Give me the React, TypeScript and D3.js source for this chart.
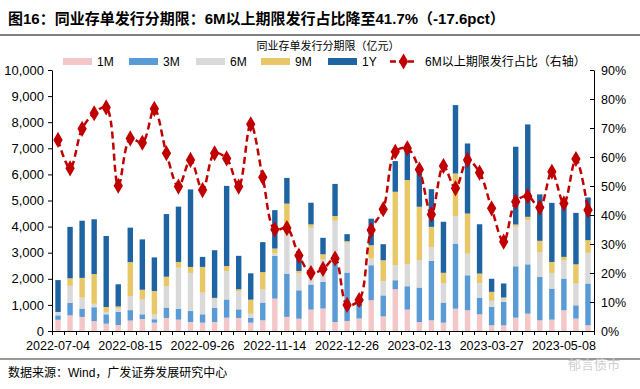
import React, { useRef, useEffect } from "react";
import * as d3 from "d3";

// weekly issuance by tenor (100m yuan)
const dates = [
  "2022-07-04", "2022-07-11", "2022-07-18", "2022-07-25", "2022-08-01", "2022-08-08",
  "2022-08-15", "2022-08-22", "2022-08-29", "2022-09-05", "2022-09-12", "2022-09-19",
  "2022-09-26", "2022-10-10", "2022-10-17", "2022-10-24", "2022-10-31", "2022-11-07",
  "2022-11-14", "2022-11-21", "2022-11-28", "2022-12-05", "2022-12-12", "2022-12-19",
  "2022-12-26", "2023-01-02", "2023-01-09", "2023-01-16", "2023-01-30", "2023-02-06",
  "2023-02-13", "2023-02-20", "2023-02-27", "2023-03-06", "2023-03-13", "2023-03-20",
  "2023-03-27", "2023-04-03", "2023-04-10", "2023-04-17", "2023-04-24", "2023-05-01",
  "2023-05-08", "2023-05-15", "2023-05-22",
];
const m1 = [430, 600, 540, 380, 280, 230, 400, 460, 320, 500, 435, 345, 320, 345, 510, 500, 320, 410,
  1240, 540, 470, 820, 860, 345, 385, 480, 1180, 560, 1600, 820, 345, 410, 320, 855, 795, 640,
  220, 220, 510, 665, 410, 435, 795, 475, 220];
const m3 = [170, 480, 320, 530, 360, 500, 400, 180, 130, 400, 420, 420, 320, 550, 700, 330, 190, 680,
  1640, 1660, 1090, 960, 1020, 2370, 1855, 450, 1340, 805, 345, 895, 1320, 2275, 770, 2495, 1340, 640,
  705, 895, 1970, 1890, 1660, 1190, 1215, 510, 1600];
const m6 = [130, 650, 420, 130, 90, 130, 530, 560, 180, 820, 1570, 1460, 830, 345, 1090, 690, 150, 500,
  90, 1690, 640, 2175, 860, 1510, 1140, 0, 255, 540, 575, 845, 1050, 535, 730, 1050, 830, 560,
  230, 130, 1510, 1690, 935, 600, 700, 830, 1175];
const m9 = [0, 290, 755, 1140, 190, 80, 1310, 380, 900, 360, 220, 230, 985, 30, 190, 80, 540, 665,
  190, 990, 100, 130, 200, 180, 60, 0, 510, 805, 2815, 3225, 2045, 770, 410, 1635, 1535, 360,
  345, 40, 90, 130, 450, 420, 130, 740, 485];
const y1 = [1220, 1970, 2190, 2100, 2720, 850, 1320, 1930, 1290, 2400, 2120, 2970, 385, 1825, 3070, 1280, 1010, 1150,
  1470, 985, 570, 830, 630, 1230, 270, 110, 1020, 615, 1175, 1255, 1405, 1445, 1955, 2620, 2685, 1890,
  500, 535, 2980, 3540, 1780, 2265, 1980, 1970, 1635];
// share of tenors above 6M (%), right axis
const ratio = [65.9, 56.1, 69.7, 75.1, 77.1, 50.1, 66.4, 64.9, 76.6, 61.3, 49.8, 59.0, 48.6, 61.3, 59.5, 49.8, 71.3, 53.0,
  35.0, 35.5, 26.0, 20.0, 21.4, 25.0, 9.0, 10.7, 34.8, 42.0, 61.8, 63.0, 55.7, 40.2, 56.9, 49.2, 59.0, 54.6,
  42.3, 30.8, 44.6, 46.5, 42.6, 54.9, 44.0, 59.3, 41.7];

const series = ["1M", "3M", "6M", "9M", "1Y"];
const colors = ["#F3C6C8", "#5B9BD5", "#D9D9D9", "#E8C766", "#1F64A2"];
const lineName = "6M以上期限发行占比（右轴）";
const leftTicks = [0, 1000, 2000, 3000, 4000, 5000, 6000, 7000, 8000, 9000, 10000];
const rightTicks = [0, 10, 20, 30, 40, 50, 60, 70, 80, 90];

const W = 640, H = 389;
const latin = "'Liberation Sans', Arial, sans-serif";
const cjk = "'Liberation Sans', 'Noto Sans CJK SC', sans-serif";

export default function App() {
  const ref = useRef<SVGSVGElement>(null);

  useEffect(() => {
    const svg = d3.select(ref.current);
    svg.selectAll("*").remove();
    svg.append("rect").attr("width", W).attr("height", H).attr("fill", "#fff");

    const left = 52, right = 594, top = 70, bottom = 331;
    const x = d3.scaleBand().domain(dates).range([left, right]).paddingInner(0.55).paddingOuter(0.275);
    const yL = d3.scaleLinear().domain([0, 10000]).range([bottom, top]);
    const yR = d3.scaleLinear().domain([0, 90]).range([bottom, top]);

    // title block
    svg.append("text").attr("x", 8).attr("y", 24)
      .attr("font-family", cjk).attr("font-size", 15).attr("font-weight", 700)
      .text("图16：同业存单发行分期限：6M以上期限发行占比降至41.7%（-17.6pct）");
    svg.append("line").attr("x1", 0).attr("x2", W).attr("y1", 35).attr("y2", 35)
      .attr("stroke", "#555").attr("stroke-width", 1.5);
    svg.append("text").attr("x", 328).attr("y", 50).attr("text-anchor", "middle")
      .attr("font-family", cjk).attr("font-size", 11).text("同业存单发行分期限（亿元）");

    // legend
    const legX = [63, 129, 196, 261, 328];
    series.forEach((s, i) => {
      svg.append("rect").attr("x", legX[i]).attr("y", 58).attr("width", 29).attr("height", 7).attr("fill", colors[i]);
      svg.append("text").attr("x", legX[i] + 34).attr("y", 66).attr("font-family", latin)
        .attr("font-size", 12).text(s);
    });
    svg.append("line").attr("x1", 390).attr("x2", 417).attr("y1", 61.5).attr("y2", 61.5)
      .attr("stroke", "#C00000").attr("stroke-width", 2.5).attr("stroke-dasharray", "6,3");
    svg.append("path").attr("transform", "translate(403.5,61.5)")
      .attr("d", d3.symbol().type(d3.symbolDiamond).size(50)())
      .attr("fill", "#C00000").attr("stroke", "#C00000").attr("stroke-width", 1.5);
    svg.append("text").attr("x", 425).attr("y", 66).attr("font-family", cjk)
      .attr("font-size", 12).text(lineName);

    // stacked bars
    const rows = dates.map((d, i) => ({ date: d, "1M": m1[i], "3M": m3[i], "6M": m6[i], "9M": m9[i], "1Y": y1[i] }));
    const stacked = d3.stack<any>().keys(series)(rows);
    svg.append("g").selectAll("g").data(stacked).join("g")
      .attr("fill", (d, i) => colors[i])
      .selectAll("rect").data(d => d).join("rect")
      .attr("x", d => x(d.data.date)!)
      .attr("width", x.bandwidth())
      .attr("y", d => yL(d[1]))
      .attr("height", d => Math.max(0, yL(d[0]) - yL(d[1])));

    // axes
    const gl = svg.append("g").attr("transform", `translate(${left},0)`)
      .call(d3.axisLeft(yL).tickValues(leftTicks).tickFormat(d3.format(",")).tickSizeInner(4).tickSizeOuter(0).tickPadding(4));
    const gr = svg.append("g").attr("transform", `translate(${right},0)`)
      .call(d3.axisRight(yR).tickValues(rightTicks).tickFormat(d => d + "%").tickSizeInner(-4).tickSizeOuter(0).tickPadding(7));
    gl.selectAll("text").attr("font-size", 13);
    gr.selectAll("text").attr("font-size", 12.5);
    [gl, gr].forEach(g => {
      g.selectAll("text").attr("font-family", latin).attr("fill", "#000");
      g.selectAll("line, path").attr("stroke", "#000");
    });

    const gx = svg.append("g");
    gx.append("line").attr("x1", left).attr("x2", right).attr("y1", bottom + 0.5).attr("y2", bottom + 0.5).attr("stroke", "#000");
    const step = x.step();
    d3.range(dates.length + 1).forEach(i => {
      const xx = Math.round(left + i * step) + 0.5;
      gx.append("line").attr("x1", xx).attr("x2", xx).attr("y1", bottom).attr("y2", bottom + 4).attr("stroke", "#000");
    });
    dates.forEach((d, i) => {
      if (i % 6 !== 0) return;
      gx.append("text").attr("x", x(d)! + x.bandwidth() / 2).attr("y", 350)
        .attr("text-anchor", "middle").attr("font-family", latin).attr("font-size", 12.5).text(d);
    });

    // ratio line
    const line = d3.line<number>()
      .x((d, i) => x(dates[i])! + x.bandwidth() / 2)
      .y(d => yR(d))
      .curve(d3.curveCatmullRom.alpha(0.5));
    svg.append("path").attr("d", line(ratio)!).attr("fill", "none")
      .attr("stroke", "#C00000").attr("stroke-width", 2.5).attr("stroke-dasharray", "7,4");
    svg.append("g").selectAll("path").data(ratio).join("path")
      .attr("transform", (d, i) => `translate(${x(dates[i])! + x.bandwidth() / 2},${yR(d)})`)
      .attr("d", d3.symbol().type(d3.symbolDiamond).size(50)())
      .attr("fill", "#C00000").attr("stroke", "#C00000").attr("stroke-width", 1.5);

    // footer
    svg.append("line").attr("x1", 0).attr("x2", W).attr("y1", 359).attr("y2", 359)
      .attr("stroke", "#999").attr("stroke-width", 2);
    svg.append("text").attr("x", 8).attr("y", 377).attr("font-family", cjk).attr("font-size", 12)
      .text("数据来源：Wind，广发证券发展研究中心");
    svg.append("text").attr("x", 568).attr("y", 369).attr("font-family", cjk).attr("font-size", 13)
      .attr("fill", "#cfcfcf").text("郁言债市");
  }, []);

  return <svg ref={ref} width={W} height={H} style={{ position: "absolute", left: 0, top: 0, display: "block" }} />;
}
